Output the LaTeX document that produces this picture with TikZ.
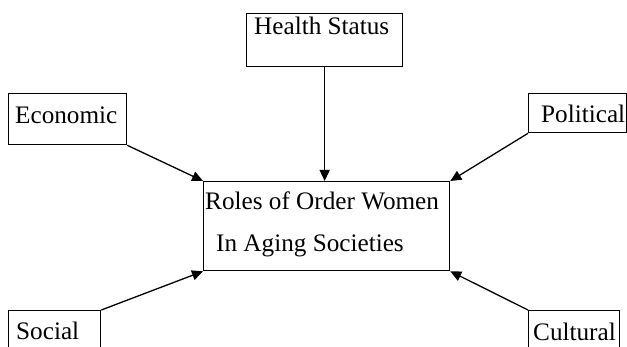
\documentclass[tikz,border=0pt]{standalone}
\usepackage{fontspec}
\setmainfont{Liberation Serif}
\usetikzlibrary{arrows.meta}
\tikzset{
  box/.style={draw=black, line width=1.3pt, fill=none, inner sep=0pt, anchor=north west},
  lbl/.style={inner sep=0pt, anchor=base west, font=\fontsize{25.2}{29}\selectfont},
  arr/.style={line width=1.3pt, -{Triangle[length=11pt,width=10pt]}}
}
\begin{document}
\begin{tikzpicture}[x=1pt,y=-1pt]
\clip (0,0) rectangle (627,347);
\fill[white] (0,0) rectangle (627,347);
% boxes
\node[box, minimum width=156pt, minimum height=53pt] (health) at (246,13) {};
\node[box, minimum width=246pt, minimum height=89pt] (roles) at (203,181) {};
\node[box, minimum width=118pt, minimum height=51pt] (eco) at (8,93) {};
\node[box, minimum width=98pt, minimum height=39pt] (pol) at (528,93) {};
\node[box, minimum width=92pt, minimum height=60pt] (soc) at (8,310) {};
\node[box, minimum width=91pt, minimum height=60pt] (cul) at (528,310) {};
% texts
\node[lbl] (thealth) at (254,35) {Health Status};
\node[lbl] (troles1) at (205,210) {Roles of Order Women};
\node[lbl] (troles2) at (216,252) {In Aging Societies};
\node[lbl] (teco) at (15,124) {Economic};
\node[lbl] (tpol) at (541,123) {Political};
\node[lbl] (tsoc) at (16,340) {Social};
\node[lbl] (tcul) at (533,341) {Cultural};
% arrows
\draw[arr] (health.south) -- (roles.north -| health.south);
\draw[arr] (eco.south east) -- (roles.north west);
\draw[arr] (pol.south west) -- (roles.north east);
\draw[arr] (soc.north east) -- (roles.south west);
\draw[arr] (cul.north west) -- (roles.south east);
\end{tikzpicture}
\end{document}
